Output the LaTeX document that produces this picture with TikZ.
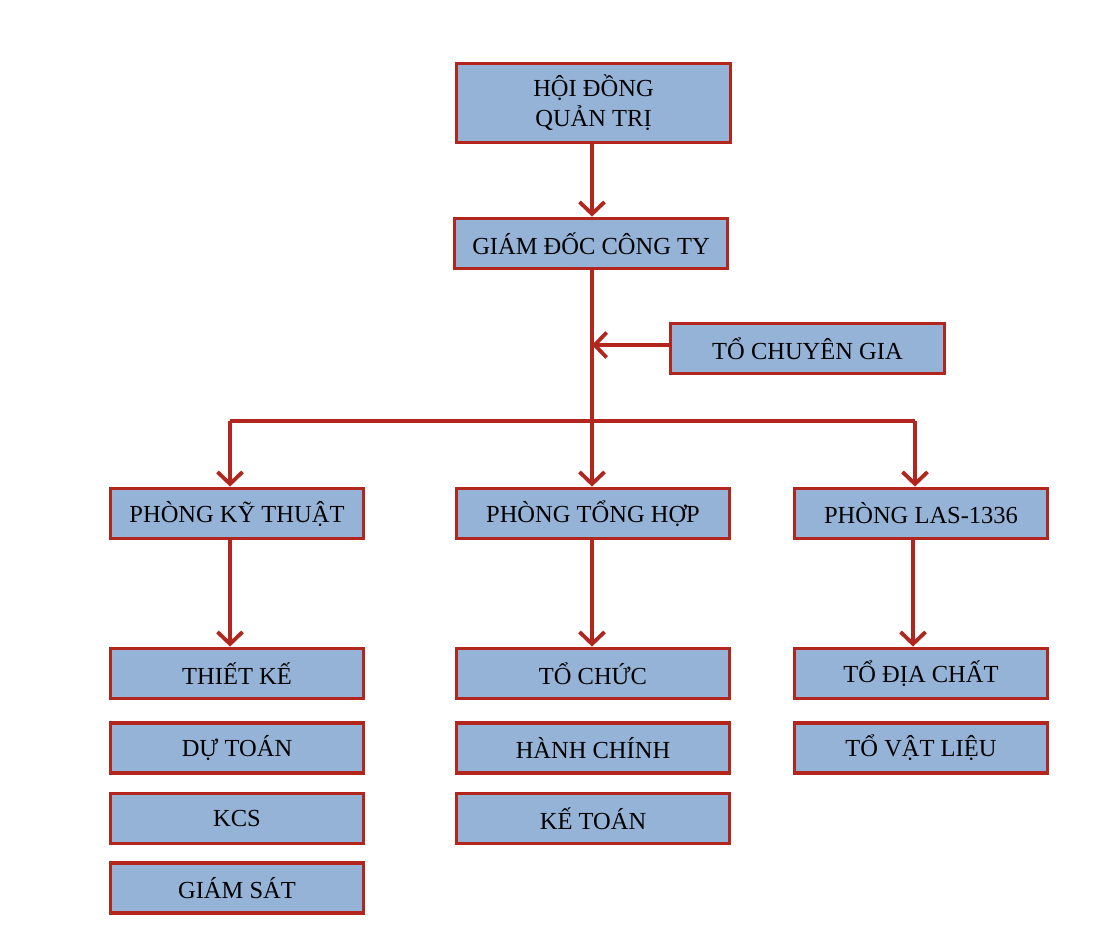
\documentclass[tikz,border=0pt]{standalone}
\usepackage{fontspec}
\setmainfont{Liberation Serif}
\usetikzlibrary{arrows.meta}
\definecolor{boxfill}{HTML}{95B3D7}
\definecolor{boxline}{HTML}{B3261E}
\tikzset{
  orgbox/.style={draw=boxline, line width=3.8pt, fill=boxfill, inner sep=0pt,
    minimum height=50pt, align=center, font=\fontsize{24.5}{30}\selectfont},
  widebox/.style={orgbox, minimum width=273pt},
  narrowbox/.style={orgbox, minimum width=253pt},
  link/.style={draw=boxline, line width=3.8pt, -{Straight Barb[length=12pt,width=25pt,line width=3.8pt]}},
  plain/.style={draw=boxline, line width=3.8pt}
}
\begin{document}
\begin{tikzpicture}[x=1pt,y=-1pt]
\useasboundingbox (0,0) rectangle (1113,932);
\node[widebox, minimum height=79pt, minimum width=274pt] (hdqt) at (593.5,103) {\raisebox{-3pt}{HỘI ĐỒNG}\\\raisebox{-3pt}{QUẢN TRỊ}};
\node[widebox] (gd) at (591,243.5) {GIÁM ĐỐC CÔNG TY};
\node[widebox, minimum width=274pt] (tcg) at (807.5,348.5) {TỔ CHUYÊN GIA};
\node[narrowbox] (pkt) at (237,513.5) {PHÒNG KỸ THUẬT};
\node[widebox] (pth) at (593,513.5) {PHÒNG TỔNG HỢP};
\node[narrowbox] (plas) at (921,513.5) {PHÒNG LAS-1336};
\node[narrowbox] (tk) at (237,673.5) {THIẾT KẾ};
\node[narrowbox] (dt) at (237,748) {DỰ TOÁN};
\node[narrowbox] (kcs) at (237,818.5) {KCS};
\node[narrowbox] (gs) at (237,888) {GIÁM SÁT};
\node[widebox] (tc) at (593,673.5) {TỔ CHỨC};
\node[widebox] (hc) at (593,748) {HÀNH CHÍNH};
\node[widebox] (kt) at (593,818.5) {KẾ TOÁN};
\node[narrowbox] (tdc) at (921,673.5) {TỔ ĐỊA CHẤT};
\node[narrowbox] (tvl) at (921,748) {TỔ VẬT LIỆU};
\coordinate (trunk) at (592,345);
\coordinate (busL) at (230,421);
\coordinate (busR) at (915,421);
\draw[link] (hdqt.south -| trunk) -- (gd.north -| trunk);
\draw[link] (gd.south -| trunk) -- (pth.north -| trunk);
\draw[link] (tcg.west |- trunk) -- (trunk);
\draw[plain] (busL) -- (busR);
\draw[link] (busL) -- (pkt.north -| busL);
\draw[link] (busR) -- (plas.north -| busR);
\draw[link] (pkt.south -| busL) -- (tk.north -| busL);
\draw[link] (pth.south -| trunk) -- (tc.north -| trunk);
\draw[link] ([xshift=-8pt]plas.south) -- ([xshift=-8pt]tdc.north);
\end{tikzpicture}
\end{document}
